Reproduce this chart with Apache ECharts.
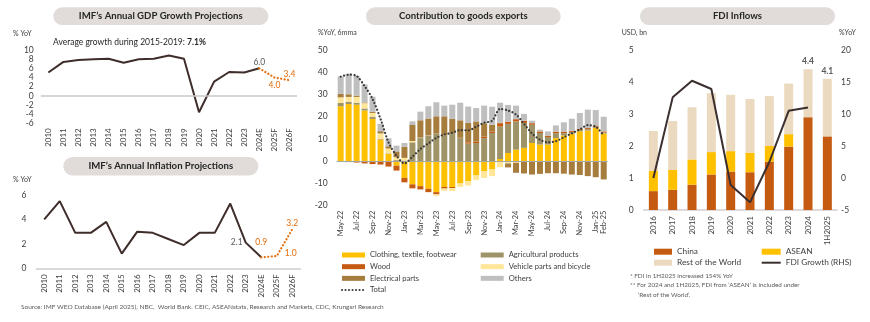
<!DOCTYPE html>
<html>
<head>
<meta charset="utf-8">
<script src="https://cdn.jsdelivr.net/npm/echarts@6/dist/echarts.min.js"></script>
<style>
html,body{margin:0;padding:0;background:#fff;}
#c{width:870px;height:322px;}
</style>
</head>
<body>
<div id="c"></div>
<script>
// ---- Data ----
const years = ['2010','2011','2012','2013','2014','2015','2016','2017','2018','2019','2020','2021','2022','2023','2024E','2025F','2026F'];
const gdpActual = [5.1, 7.4, 7.8, 8.0, 8.1, 7.2, 8.0, 8.1, 8.8, 8.1, -3.6, 3.1, 5.2, 5.1, 6.0, null, null];
const gdpProjection = [null, null, null, null, null, null, null, null, null, null, null, null, null, null, 6.0, 4.0, 3.4];
const cpiActual = [4.0, 5.5, 2.9, 2.9, 3.8, 1.2, 3.0, 2.9, 2.4, 1.9, 2.9, 2.9, 5.3, 2.1, 0.9, null, null];
const cpiProjection = [null, null, null, null, null, null, null, null, null, null, null, null, null, null, 0.9, 1.0, 3.2];

const months = ['May-22','Jun-22','Jul-22','Aug-22','Sep-22','Oct-22','Nov-22','Dec-22',
  'Jan-23','Feb-23','Mar-23','Apr-23','May-23','Jun-23','Jul-23','Aug-23','Sep-23','Oct-23','Nov-23','Dec-23',
  'Jan-24','Feb-24','Mar-24','Apr-24','May-24','Jun-24','Jul-24','Aug-24','Sep-24','Oct-24','Nov-24','Dec-24',
  'Jan-25','Feb-25'];
const clothing = [24.7,25.7,25.4,22.8,19.0,9.8,3.3,-2.0,-7.5,-10.4,-11.2,-12.4,-13.9,-11.6,-11.6,-10.0,-9.0,-6.4,-4.5,-3.7,1.0,3.7,5.2,6.0,8.2,7.5,7.5,10.4,11.6,12.4,13.5,13.8,15.0,12.5];
const agricultural = [1.5,1.0,0.9,0.9,0.9,0.3,0.2,0.5,0.3,8.5,10.4,11.5,12.4,11.5,12.7,10.4,7.9,8.2,10.4,12.7,14.6,13.1,12.7,11.2,8.2,5.2,3.4,2.2,1.0,0.8,0.6,0.6,0.5,0.4];
const wood = [-0.2,-0.4,-0.6,-1.0,-1.3,-1.5,-2.4,-2.2,-2.0,-1.8,-1.5,-1.5,-1.0,-0.7,-0.5,0.2,0.6,0.7,0.7,0.7,1.5,1.0,1.0,1.0,0.7,0.7,0.6,0.7,0.7,0.5,0.5,0.5,0.5,0.5];
const vehicle = [2.5,2.2,2.6,2.4,1.8,2.4,2.2,1.3,1.2,0.6,0.2,0.1,-0.7,-1.0,-1.3,-1.6,-1.9,-2.1,-3.0,-3.0,-2.7,-1.0,-0.7,-0.3,-0.3,-0.2,-0.2,-0.2,-0.2,-0.2,-0.2,-0.2,-0.2,-0.2];
const electrical = [1.6,1.2,0.6,0.3,0.5,1.0,1.0,2.6,5.0,7.2,7.8,7.6,7.8,8.7,6.3,7.8,8.7,9.0,6.0,3.0,0.2,-1.8,-4.5,-5.2,-5.7,-5.5,-5.2,-5.2,-5.4,-5.8,-6.0,-6.5,-7.0,-8.0];
const others = [7.8,9.2,8.9,8.1,6.8,3.3,3.6,2.6,1.7,1.6,3.9,5.5,6.3,4.8,6.4,7.9,7.4,6.0,7.9,8.1,9.0,7.5,6.1,3.1,1.1,0.8,1.9,2.8,4.2,5.4,7.1,8.3,7.0,6.6];
const total = [38.0,38.9,38.3,33.8,28.0,19.0,8.5,2.5,-1.0,2.0,5.5,8.0,10.5,12.0,12.8,14.0,13.9,15.5,17.3,18.2,23.5,22.8,21.0,16.8,12.5,9.7,8.5,9.0,10.8,12.5,14.3,16.2,15.5,11.5];

const fdiYears = ['2016','2017','2018','2019','2020','2021','2022','2023','2024','1H2025'];
const fdiChina = [0.59,0.63,0.79,1.11,1.20,1.18,1.51,1.98,2.9,2.3];
const fdiAsean = [0.63,0.62,0.79,0.70,0.64,0.61,0.49,0.39,0,0];
const fdiRest = [1.25,1.53,1.63,1.84,1.76,1.68,1.56,1.58,1.5,1.8];
const fdiGrowth = [0.0,12.6,15.2,13.9,-1.1,-3.8,2.5,10.5,11.0,null];

// ---- Styling ----
const FONT = 'Lato';
const AX = '#404040';
const DARK = '#3F2D2B';
const ORANGE = '#E46C0A';
const GREY_TXT = '#595959';
const PILL = '#E1DCDA';

const C_CLOTH = '#FFC000', C_AGRI = '#9E9468', C_WOOD = '#C55A11',
      C_VEH = '#FFE699', C_ELEC = '#A67D3D', C_OTH = '#BFBFBF';

const dotted = { type: [0.1, 3.4], cap: 'round', width: 2.2 };
const oneDecimal = (p) => Number(p.value).toFixed(1);

// attach value labels to selected points
function withLabels(values, specs) {
  return values.map((v, i) => specs[i] ? {
    value: v,
    label: Object.assign({ show: true, fontFamily: FONT, fontSize: 8.5, formatter: oneDecimal }, specs[i])
  } : v);
}

const lblDark = { color: GREY_TXT };
const lblOrange = { color: ORANGE };

const gdpActualData = withLabels(gdpActual, { 14: Object.assign({ position: 'top', distance: 2 }, lblDark) });
const gdpProjData = withLabels(gdpProjection, {
  15: Object.assign({ position: 'bottom', distance: 3 }, lblOrange),
  16: Object.assign({ position: 'top', distance: 1 }, lblOrange)
});
const cpiActualData = withLabels(cpiActual, { 13: Object.assign({ position: 'left', distance: 3 }, lblDark) });
const cpiProjData = withLabels(cpiProjection, {
  14: Object.assign({ position: 'top', distance: 10 }, lblOrange),
  15: Object.assign({ position: 'right', distance: 8, offset: [0, -3] }, lblOrange),
  16: Object.assign({ position: 'top', distance: 1 }, lblOrange)
});

const fdiTotalIdx = [8, 9];
const fdiRestData = fdiRest.map((v, i) => fdiTotalIdx.includes(i) ? {
  value: v,
  label: {
    show: true, position: 'top', distance: 3, fontFamily: FONT, fontSize: 8.5, fontWeight: 'bold', color: GREY_TXT,
    formatter: () => (fdiChina[i] + fdiAsean[i] + fdiRest[i]).toFixed(1)
  }
} : v);

function zeroLine(color, width) {
  return {
    silent: true, symbol: 'none', label: { show: false },
    lineStyle: { color: color, width: width, type: 'solid' },
    data: [{ yAxis: 0 }]
  };
}

// line series whose points carry no visible marker (tiny symbols keep value labels available)
function lineSeries(xi, yi, data, lineStyle, extra) {
  return Object.assign({
    type: 'line', xAxisIndex: xi, yAxisIndex: yi, data: data,
    symbol: 'circle', symbolSize: 0.1, showSymbol: true,
    lineStyle: lineStyle, itemStyle: { color: lineStyle.color }, z: 4
  }, extra || {});
}

const axisLabelBase = { fontFamily: FONT, color: AX };

function catAxis(grid, data, extra) {
  return Object.assign({
    gridIndex: grid, type: 'category', data: data,
    axisTick: { show: false },
    axisLine: { show: false },
    splitLine: { show: false }
  }, extra);
}
function valAxis(grid, min, max, interval, extra) {
  return Object.assign({
    gridIndex: grid, type: 'value', min: min, max: max, interval: interval,
    splitLine: { show: false }, axisLine: { show: false }, axisTick: { show: false }
  }, extra);
}

function txt(x, y, text, size, extra) {
  return {
    type: 'text', x: x, y: y, silent: true,
    style: Object.assign({
      text: text, fontFamily: FONT, fontSize: size, fill: AX,
      textAlign: 'left', textVerticalAlign: 'middle'
    }, extra || {})
  };
}
function pill(x, y, w, h, title) {
  return [
    { type: 'rect', silent: true, shape: { x: x, y: y, width: w, height: h, r: h / 2 }, style: { fill: PILL } },
    txt(x + w / 2, y + h / 2, title, 9.6, { fontWeight: 'bold', fill: '#262626', textAlign: 'center' })
  ];
}

const legendText = (size) => ({ fontFamily: FONT, fontSize: size, color: AX, lineHeight: 10 });
const hideMarker = { opacity: 0 };

const option = {
  animation: false,
  backgroundColor: '#ffffff',
  textStyle: { fontFamily: FONT },
  grid: [
    { left: 40.8, top: 50, width: 256.2, height: 73.3, outerBoundsMode: 'none' },
    { left: 36.5, top: 195, width: 263.5, height: 73.3, outerBoundsMode: 'none' },
    { left: 336.7, top: 50, width: 271, height: 155.7, outerBoundsMode: 'none' },
    { left: 643.7, top: 50, width: 193.3, height: 160, outerBoundsMode: 'none' }
  ],
  xAxis: [
    catAxis(0, years, { axisLabel: Object.assign({ rotate: 90, fontSize: 8, margin: 5, interval: 0 }, axisLabelBase) }),
    catAxis(1, years, {
      axisLine: { show: true, onZero: false, lineStyle: { color: '#D9D9D9', width: 2 } },
      axisLabel: Object.assign({ rotate: 90, fontSize: 8, margin: 6, interval: 0 }, axisLabelBase)
    }),
    catAxis(2, months, {
      axisLabel: Object.assign({
        rotate: 90, fontSize: 7.4, margin: 5,
        interval: (idx) => idx % 2 === 0 || idx === months.length - 1
      }, axisLabelBase)
    }),
    catAxis(3, fdiYears, {
      axisLine: { show: true, onZero: false, lineStyle: { color: '#D6CDD1', width: 1.5 } },
      axisLabel: Object.assign({ rotate: 90, fontSize: 8, margin: 6, interval: 0 }, axisLabelBase)
    })
  ],
  yAxis: [
    valAxis(0, -6, 10, 2, { axisLabel: Object.assign({ fontSize: 8.5, margin: 7 }, axisLabelBase) }),
    valAxis(1, 0, 6, 2, { axisLabel: Object.assign({ fontSize: 8.5, margin: 10 }, axisLabelBase) }),
    valAxis(2, -20, 50, 10, { axisLabel: Object.assign({ fontSize: 8.5, margin: 9 }, axisLabelBase) }),
    valAxis(3, 0, 5, 1, { axisLabel: Object.assign({ fontSize: 8.5, margin: 10 }, axisLabelBase) }),
    valAxis(3, -5, 20, 5, { position: 'right', axisLabel: Object.assign({ fontSize: 8.5, margin: 4 }, axisLabelBase) })
  ],
  legend: [
    {
      orient: 'vertical', left: 341, top: 250, padding: 0, itemWidth: 23, itemHeight: 5, itemGap: 1.67,
      selectedMode: false, textStyle: legendText(7.6),
      data: [{ name: 'Clothing, textile, footwear', icon: 'rect' }, { name: 'Wood', icon: 'rect' },
             { name: 'Electrical parts', icon: 'rect' }, { name: 'Total', itemStyle: hideMarker }]
    },
    {
      orient: 'vertical', left: 480.7, top: 250, padding: 0, itemWidth: 23, itemHeight: 5, itemGap: 1.67,
      selectedMode: false, textStyle: legendText(7.6),
      data: [{ name: 'Agricultural products', icon: 'rect' }, { name: 'Vehicle parts and bicycle', icon: 'rect' },
             { name: 'Others', icon: 'rect' }]
    },
    {
      orient: 'vertical', left: 654, top: 246.7, padding: 0, itemWidth: 18, itemHeight: 6, itemGap: 1,
      selectedMode: false, textStyle: legendText(8.3),
      data: [{ name: 'China', icon: 'rect' }, { name: 'Rest of the World', icon: 'rect' }]
    },
    {
      orient: 'vertical', left: 760.7, top: 246.7, padding: 0, itemWidth: 19, itemHeight: 6, itemGap: 1,
      selectedMode: false, textStyle: legendText(8.3),
      data: [{ name: 'ASEAN', icon: 'rect' }, { name: 'FDI Growth (RHS)', itemStyle: hideMarker }]
    }
  ],
  series: [
    // GDP growth
    lineSeries(0, 0, gdpActualData, { color: DARK, width: 2 }, { markLine: zeroLine('#C8C8C8', 1.5) }),
    lineSeries(0, 0, gdpProjData, Object.assign({ color: ORANGE }, dotted)),
    // Inflation
    lineSeries(1, 1, cpiActualData, { color: DARK, width: 2 }),
    lineSeries(1, 1, cpiProjData, Object.assign({ color: ORANGE }, dotted)),
    // Export contributions
    {
      name: 'Clothing, textile, footwear', type: 'bar', xAxisIndex: 2, yAxisIndex: 2, stack: 'exp',
      data: clothing, barWidth: 6, itemStyle: { color: C_CLOTH },
      markLine: zeroLine('#A6A6A6', 1.2)
    },
    { name: 'Agricultural products', type: 'bar', xAxisIndex: 2, yAxisIndex: 2, stack: 'exp', data: agricultural, barWidth: 6, itemStyle: { color: C_AGRI } },
    { name: 'Wood', type: 'bar', xAxisIndex: 2, yAxisIndex: 2, stack: 'exp', data: wood, barWidth: 6, itemStyle: { color: C_WOOD } },
    { name: 'Vehicle parts and bicycle', type: 'bar', xAxisIndex: 2, yAxisIndex: 2, stack: 'exp', data: vehicle, barWidth: 6, itemStyle: { color: C_VEH } },
    { name: 'Electrical parts', type: 'bar', xAxisIndex: 2, yAxisIndex: 2, stack: 'exp', data: electrical, barWidth: 6, itemStyle: { color: C_ELEC } },
    { name: 'Others', type: 'bar', xAxisIndex: 2, yAxisIndex: 2, stack: 'exp', data: others, barWidth: 6, itemStyle: { color: C_OTH } },
    lineSeries(2, 2, total, Object.assign({ color: '#3A3A3A' }, dotted), { name: 'Total', symbol: 'none', showSymbol: false, smooth: 0.3, z: 5 }),
    // FDI
    { name: 'China', type: 'bar', xAxisIndex: 3, yAxisIndex: 3, stack: 'fdi', data: fdiChina, barWidth: 9, itemStyle: { color: '#C55A11' } },
    { name: 'ASEAN', type: 'bar', xAxisIndex: 3, yAxisIndex: 3, stack: 'fdi', data: fdiAsean, barWidth: 9, itemStyle: { color: '#FFC000' } },
    { name: 'Rest of the World', type: 'bar', xAxisIndex: 3, yAxisIndex: 3, stack: 'fdi', data: fdiRestData, barWidth: 9, itemStyle: { color: '#EBDAC0' } },
    lineSeries(3, 4, fdiGrowth, { color: '#3B2F2F', width: 2 }, { name: 'FDI Growth (RHS)', symbol: 'none', showSymbol: false, z: 5 })
  ],
  graphic: [].concat(
    pill(53.3, 7.3, 215, 17.7, 'IMF’s Annual GDP Growth Projections'),
    pill(63.3, 157, 195, 18.5, 'IMF’s Annual Inflation Projections'),
    pill(366, 7.3, 194.7, 17.7, 'Contribution to goods exports'),
    pill(640, 7.3, 195, 17.7, 'FDI Inflows'),
    [
      txt(13, 33.5, '% YoY', 7),
      txt(53, 42, '{a|Average growth during 2015-2019: }{b|7.1%}', 8.5, {
        rich: {
          a: { fontFamily: FONT, fontSize: 8.5, fill: '#262626' },
          b: { fontFamily: FONT, fontSize: 8.5, fontWeight: 'bold', fill: '#262626' }
        }
      }),
      txt(13, 179.5, '% YoY', 7),
      txt(318, 33, '%YoY, 6mma', 7),
      txt(621.7, 33, 'USD, bn', 7),
      txt(839, 33, '%YoY', 7),
      txt(21, 306.7, 'Source: IMF WEO Database (April 2025), NBC,  World Bank. CEIC, ASEANstats, Research and Markets, CDC, Krungsri Research', 6.5, { fill: GREY_TXT }),
      txt(630, 276, '* FDI in 1H2025 increased 154% YoY', 6.3, { fill: GREY_TXT }),
      txt(630, 285.3, '** For 2024 and 1H2025, FDI from ‘ASEAN’ is included under', 6.3, { fill: GREY_TXT }),
      txt(638, 294.7, '‘Rest of the World’.', 6.3, { fill: GREY_TXT })
    ]
  )
};

const chart = echarts.init(document.getElementById('c'));
chart.setOption(option);
</script>
</body>
</html>
